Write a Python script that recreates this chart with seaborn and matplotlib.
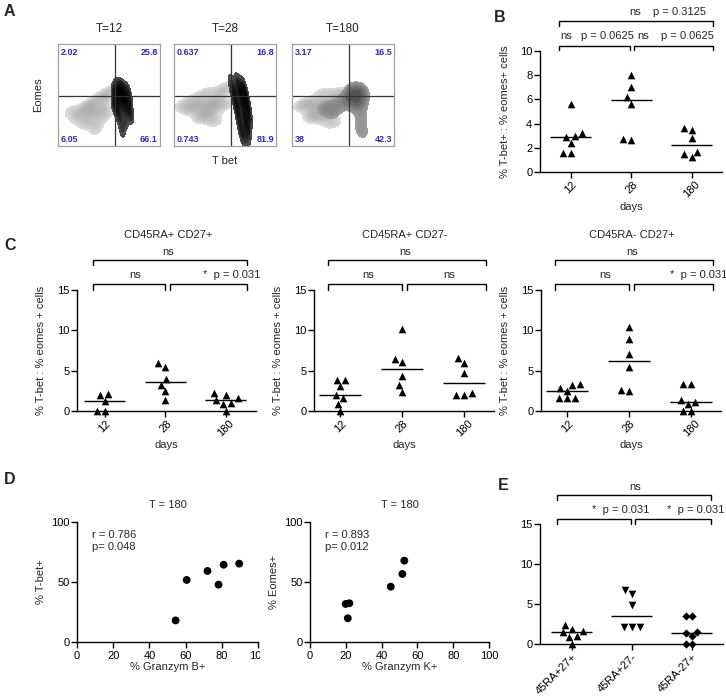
"""Multi-panel figure: flow plots, T-bet/Eomes ratios, correlations."""

import matplotlib
matplotlib.use("Agg")
import matplotlib.pyplot as plt
import numpy as np
import pandas as pd
import seaborn as sns
from matplotlib.colors import LinearSegmentedColormap
from matplotlib.transforms import Bbox

# ---------------- data ----------------
# A: flow plots (box coords 0-1), rough anchor points of the clouds
FLOW_TITLES = ["T=12", "T=28", "T=180"]
QUAD_LABELS = [["2.02", "25.8", "6.05", "66.1"],
               ["0.637", "16.8", "0.743", "81.9"],
               ["3.17", "16.5", "38", "42.3"]]
gray12_x = [0.12, 0.18, 0.24, 0.30, 0.35, 0.40, 0.45, 0.48, 0.28, 0.36, 0.44, 0.32, 0.40, 0.48, 0.22, 0.52, 0.38, 0.30]
gray12_y = [0.34, 0.30, 0.36, 0.30, 0.35, 0.32, 0.36, 0.30, 0.22, 0.22, 0.44, 0.40, 0.48, 0.50, 0.26, 0.54, 0.16, 0.40]
black12_x = [0.55, 0.59, 0.63, 0.68, 0.57, 0.61, 0.65, 0.70, 0.58, 0.64, 0.69, 0.60, 0.66, 0.63, 0.72, 0.55]
black12_y = [0.56, 0.60, 0.58, 0.55, 0.48, 0.50, 0.47, 0.45, 0.38, 0.40, 0.36, 0.28, 0.24, 0.14, 0.28, 0.40]
gray28_x = [0.08, 0.15, 0.22, 0.28, 0.33, 0.38, 0.43, 0.26, 0.35, 0.45, 0.50, 0.20, 0.32, 0.52, 0.40]
gray28_y = [0.40, 0.36, 0.40, 0.34, 0.42, 0.38, 0.44, 0.28, 0.30, 0.52, 0.40, 0.46, 0.52, 0.58, 0.24]
black28_x = [0.56, 0.62, 0.68, 0.59, 0.65, 0.70, 0.61, 0.67, 0.72, 0.63, 0.69, 0.74, 0.65, 0.72, 0.68, 0.72]
black28_y = [0.60, 0.62, 0.58, 0.52, 0.54, 0.50, 0.42, 0.44, 0.40, 0.32, 0.30, 0.28, 0.18, 0.20, 0.08, 0.10]
gray180_x = [0.10, 0.16, 0.22, 0.28, 0.34, 0.40, 0.46, 0.52, 0.25, 0.35, 0.45, 0.58, 0.20, 0.30, 0.62, 0.40]
gray180_y = [0.40, 0.42, 0.36, 0.42, 0.38, 0.44, 0.40, 0.46, 0.28, 0.28, 0.52, 0.52, 0.30, 0.52, 0.42, 0.22]
black180_x = [0.58, 0.62, 0.66, 0.69, 0.60, 0.64, 0.67, 0.68, 0.67, 0.45, 0.35, 0.52, 0.28, 0.40, 0.70]
black180_y = [0.52, 0.56, 0.54, 0.50, 0.46, 0.44, 0.38, 0.28, 0.18, 0.40, 0.38, 0.44, 0.36, 0.30, 0.10]

# B: ratio by day
DAYS = ["12", "28", "180"]
b_12 = [5.6, 3.25, 2.9, 2.95, 2.4, 1.55, 1.55]
b_28 = [8.0, 7.0, 6.2, 5.65, 2.65, 2.7]
b_180 = [3.5, 3.6, 2.8, 1.65, 1.45, 1.2]

# C: ratio by day within subsets
C_TITLES = ["CD45RA+ CD27+", "CD45RA+ CD27-", "CD45RA- CD27+"]
c1_12 = [1.95, 2.15, 1.2, 0.0, 0.0]
c1_28 = [5.45, 5.9, 3.95, 3.25, 2.45, 1.4]
c1_180 = [2.25, 1.6, 1.05, 1.35, 0.9, 1.95, 0.0]
c2_12 = [3.9, 3.9, 3.05, 1.95, 1.6, 0.9, 0.0]
c2_28 = [10.2, 6.1, 6.5, 4.35, 3.2, 2.35]
c2_180 = [6.0, 6.6, 4.7, 2.25, 1.95, 1.95]
c3_12 = [3.25, 2.9, 3.3, 2.5, 1.65, 1.55, 1.55]
c3_28 = [10.4, 8.9, 7.05, 5.4, 2.5, 2.65]
c3_180 = [3.3, 3.4, 1.4, 1.1, 0.85, 0.0, 0.0]

# D: correlations at T = 180
granzym_b = [54.5, 60.6, 72.1, 78.2, 81.0, 89.6]
tbet_pos = [18.0, 51.7, 59.2, 47.8, 64.4, 65.3]
granzym_k = [19.9, 22.0, 21.1, 45.1, 51.6, 52.7]
eomes_pos = [31.7, 32.3, 19.8, 46.1, 56.7, 67.8]

# E: subsets compared
E_LABELS = ["45RA+27+", "45RA+27-", "45RA-27+"]
e_1 = [2.4, 1.65, 1.45, 1.9, 1.0, 0.9, 0.0]
e_2 = [6.25, 6.7, 4.9, 2.15, 2.1, 2.1]
e_3 = [3.45, 3.55, 1.05, 1.45, 1.35, 0.0, 0.0]

# ---------------- style ----------------
sns.set_style("ticks")
plt.rcParams["font.family"] = ["Liberation Sans", "DejaVu Sans"]
plt.rcParams["axes.linewidth"] = 1.0
plt.rcParams["xtick.major.width"] = 1.0
plt.rcParams["ytick.major.width"] = 1.0
plt.rcParams["xtick.color"] = "black"
plt.rcParams["ytick.color"] = "black"
plt.rcParams["axes.edgecolor"] = "black"

W, H = 726, 696
FS = 8
BLUE = "#2a2ad0"
fig = plt.figure(figsize=(W / 100, H / 100), dpi=100)


def px_rect(x0, y0, x1, y1):
    return [x0 / W, 1 - y1 / H, (x1 - x0) / W, (y1 - y0) / H]


def letter(x, y, s):
    fig.text(x / W, 1 - y / H, s, fontsize=11.5, fontweight="bold", va="center", ha="left")


gray_cmap = LinearSegmentedColormap.from_list("g", ["#dedede", "#c0c0c0", "#acacac"])
dark_cmap = LinearSegmentedColormap.from_list("k", ["#5a5a5a", "#1c1c1c", "#000000"])
mid_cmap = LinearSegmentedColormap.from_list("m", ["#a0a0a0", "#727272", "#4a4a4a"])


def flow_panel(rect, title, labels, gx, gy, bx, by, bcmap, bthresh, show_y=False, show_x=False):
    ax = fig.add_axes(px_rect(*rect))
    sns.kdeplot(x=gx, y=gy, fill=True, levels=10, thresh=0.12, cmap=gray_cmap,
                bw_adjust=0.75, clip=((0, 1), (0, 1)), ax=ax)
    sns.kdeplot(x=bx, y=by, fill=True, levels=8, thresh=bthresh, cmap=bcmap,
                bw_adjust=0.8, clip=((0, 1), (0, 1)), ax=ax)
    ax.set_xlim(0, 1)
    ax.set_ylim(0, 1)
    ax.axvline(0.56, color="#333333", lw=0.9)
    ax.axhline(0.49, color="#333333", lw=0.9)
    ax.set_xticks([])
    ax.set_yticks([])
    ax.set_xlabel("")
    ax.set_ylabel("")
    for sp in ax.spines.values():
        sp.set_visible(True)
        sp.set_color("#a0a0a0")
        sp.set_linewidth(0.9)
    kw = dict(color=BLUE, fontsize=6.5, fontweight="bold", transform=ax.transAxes)
    ax.text(0.03, 0.96, labels[0], ha="left", va="top", **kw)
    ax.text(0.98, 0.96, labels[1], ha="right", va="top", **kw)
    ax.text(0.03, 0.02, labels[2], ha="left", va="bottom", **kw)
    ax.text(0.98, 0.02, labels[3], ha="right", va="bottom", **kw)
    ax.set_title(title, fontsize=8.5, pad=9)
    if show_y:
        ax.set_ylabel("Eomes", fontsize=FS)
        ax.yaxis.set_label_coords(-0.19, 0.5)
        ax.yaxis.label.set_va("center")
    if show_x:
        ax.set_xlabel("T bet", fontsize=FS)
        ax.xaxis.set_label_coords(0.5, -0.15)
        ax.xaxis.label.set_va("center")
    return ax


def style_axes(ax, xlim, ylim, yticks):
    ax.set_xlim(*xlim)
    ax.set_ylim(*ylim)
    ax.set_yticks(yticks)
    sns.despine(ax=ax)
    ax.tick_params(direction="out", length=4, labelsize=FS, pad=1.5)


def dot_panel(rect, groups, labels, markers, sizes, xlim, ylim, yticks, ylabel,
              xlabel, label_x, label_y, rot_ha="center"):
    ax = fig.add_axes(px_rect(*rect))
    df = pd.DataFrame({"group": np.repeat(labels, [len(g) for g in groups]),
                       "value": np.concatenate(groups)})
    for lab, m, s in zip(labels, markers, sizes):
        sns.swarmplot(data=df[df["group"] == lab], x="group", y="value", order=labels,
                      marker=m, color="black", size=s, linewidth=0, clip_on=False, ax=ax)
    for i, g in enumerate(groups):
        ax.hlines(np.median(g), i - 0.34, i + 0.34, color="black", lw=1)
    style_axes(ax, xlim, ylim, yticks)
    if rot_ha == "center":
        ax.set_xticks(range(len(labels)), labels, rotation=45, ha="center")
    else:
        ax.set_xticks(range(len(labels)), labels, rotation=45, ha="right",
                      rotation_mode="anchor")
    ax.set_ylabel(ylabel, fontsize=FS)
    ax.yaxis.set_label_coords(label_y, 0.5)
    ax.yaxis.label.set_va("center")
    ax.set_xlabel(xlabel, fontsize=FS)
    if xlabel:
        ax.xaxis.set_label_coords(0.5, label_x)
        ax.xaxis.label.set_va("center")
    return ax


def bracket(ax, x0, x1, y, drop):
    ax.plot([x0, x0, x1, x1], [y - drop, y, y, y - drop], color="black", lw=1,
            clip_on=False, solid_joinstyle="miter")


def note(ax, x, y, s, ha="center"):
    ax.text(x, y, s, ha=ha, va="center", fontsize=FS, clip_on=False)


# ---------------- A ----------------
letter(4, 12, "A")
flow_panel((58, 44, 160, 146), FLOW_TITLES[0], QUAD_LABELS[0], gray12_x, gray12_y,
           black12_x, black12_y, dark_cmap, 0.14, show_y=True)
flow_panel((174, 44, 276, 146), FLOW_TITLES[1], QUAD_LABELS[1], gray28_x, gray28_y,
           black28_x, black28_y, dark_cmap, 0.1, show_x=True)
flow_panel((292, 44, 394, 146), FLOW_TITLES[2], QUAD_LABELS[2], gray180_x, gray180_y,
           black180_x, black180_y, mid_cmap, 0.3)

# ---------------- B ----------------
letter(494, 17, "B")
axb = dot_panel((540, 51, 722, 172), [b_12, b_28, b_180], DAYS, ["^"] * 3, [5.5] * 3,
                (-0.51, 2.5), (0, 10), [0, 2, 4, 6, 8, 10], "% T-bet+ : % eomes+ cells",
                "days", -0.29, -0.19)
bracket(axb, -0.2, 0.98, 10.41, 0.33)
bracket(axb, 1.05, 2.35, 10.41, 0.33)
bracket(axb, -0.2, 2.35, 12.48, 0.41)
note(axb, -0.07, 11.24, "ns")
note(axb, 0.61, 11.24, "p = 0.0625")
note(axb, 1.19, 11.24, "ns")
note(axb, 1.93, 11.24, "p = 0.0625")
note(axb, 1.06, 13.25, "ns")
note(axb, 1.80, 13.25, "p = 0.3125")

# ---------------- C ----------------
letter(4, 245, "C")
c_rects = [(77, 290, 256, 411), (314, 290, 494, 411), (541, 290, 721, 411)]
c_groups = [[c1_12, c1_28, c1_180], [c2_12, c2_28, c2_180], [c3_12, c3_28, c3_180]]
c_xlims = [(-0.46, 2.5), (-0.42, 2.48), (-0.42, 2.48)]
c_right_notes = ["*  p = 0.031", "ns", "*  p = 0.031"]
c_left_ns = [0.5, 0.46, 0.61]
for k in range(3):
    ax = dot_panel(c_rects[k], c_groups[k], DAYS, ["^"] * 3, [5.5] * 3, c_xlims[k],
                   (0, 15), [0, 5, 10, 15], "% T-bet : % eomes + cells", "days",
                   -0.28, -0.2)
    note(ax, 1.05, 21.8, C_TITLES[k])
    bracket(ax, -0.19, 1.0, 15.74, 0.74)
    bracket(ax, 1.08, 2.35, 15.74, 0.74)
    bracket(ax, -0.19, 2.35, 18.7, 0.6)
    note(ax, 1.05, 19.75, "ns")
    note(ax, c_left_ns[k], 16.85, "ns")
    if c_right_notes[k] == "ns":
        note(ax, 1.75, 16.85, "ns")
    else:
        note(ax, 2.58, 16.9, c_right_notes[k], ha="right")

# ---------------- D ----------------
letter(4, 480, "D")
d_specs = [((77, 522, 258, 642), granzym_b, tbet_pos, "% Granzym B+", "% T-bet+",
            "r = 0.786\np= 0.048"),
           ((310, 522, 489, 642), granzym_k, eomes_pos, "% Granzym K+", "% Eomes+",
            "r = 0.893\np= 0.012")]
d_axes = []
for rect, xv, yv, xl, yl, stat in d_specs:
    ax = fig.add_axes(px_rect(*rect))
    sns.scatterplot(x=xv, y=yv, color="black", s=32, edgecolor="none", ax=ax, clip_on=False)
    style_axes(ax, (0, 100), (0, 100), [0, 50, 100])
    ax.set_xticks([0, 20, 40, 60, 80, 100])
    ax.tick_params(axis="x", pad=2.5)
    ax.set_title("T = 180", fontsize=FS, pad=10)
    ax.set_xlabel(xl, fontsize=FS)
    ax.xaxis.set_label_coords(0.5, -0.21)
    ax.xaxis.label.set_va("center")
    ax.set_ylabel(yl, fontsize=FS)
    ax.yaxis.set_label_coords(-0.2, 0.5)
    ax.yaxis.label.set_va("center")
    ax.text(0.085, 0.93, stat, transform=ax.transAxes, fontsize=FS, va="top",
            ha="left", linespacing=1.15)
    d_axes.append(ax)

# last tick label of the left plot is cut by the neighbouring panel
last = d_axes[0].get_xticklabels()[-1]
last.set_clip_box(Bbox.from_extents(0, 0, 260, H))
last.set_clip_on(True)

# ---------------- E ----------------
letter(498, 485, "E")
axe = dot_panel((540, 524, 723, 644), [e_1, e_2, e_3], E_LABELS, ["^", "v", "D"],
                [5.5, 5.5, 4.2], (-0.53, 2.52), (0, 15), [0, 5, 10, 15], "", "",
                0, -0.2, rot_ha="right")
bracket(axe, -0.25, 0.98, 15.6, 0.6)
bracket(axe, 1.05, 2.32, 15.6, 0.6)
bracket(axe, -0.25, 2.32, 18.6, 0.6)
note(axe, 1.05, 19.6, "ns")
note(axe, 1.3, 16.75, "*  p = 0.031", ha="right")
note(axe, 2.55, 16.75, "*  p = 0.031", ha="right")

fig.savefig("out.png", dpi=100)
